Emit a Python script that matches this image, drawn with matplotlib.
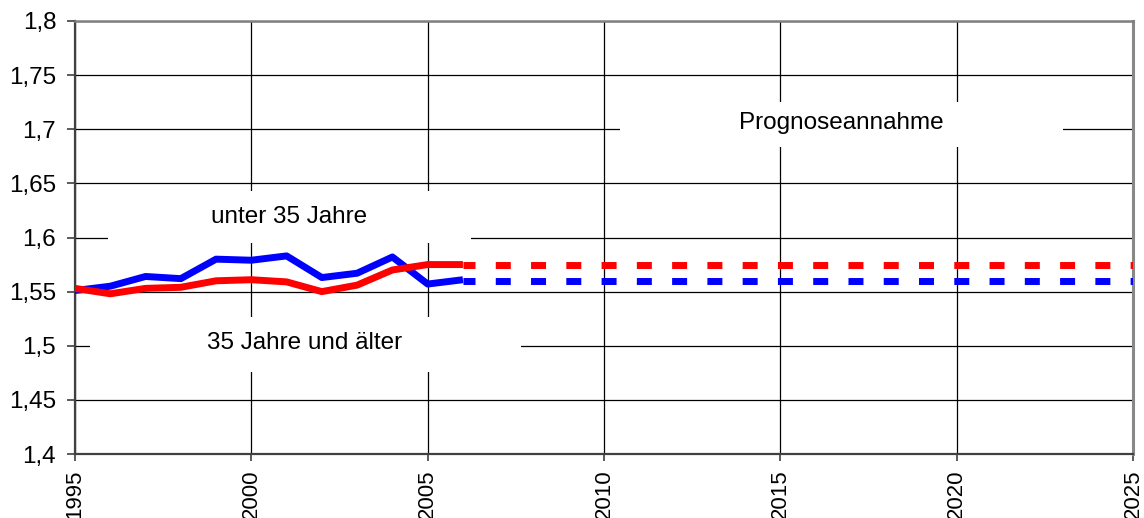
import matplotlib
matplotlib.use("Agg")
import matplotlib.pyplot as plt
from matplotlib.patches import Rectangle

plt.rcParams['font.family'] = ['Liberation Sans', 'DejaVu Sans']

# observed values 1995-2006
years = [1995, 1996, 1997, 1998, 1999, 2000, 2001, 2002, 2003, 2004, 2005, 2006]
unter35 = [1.551, 1.555, 1.564, 1.562, 1.580, 1.579, 1.583, 1.563, 1.567, 1.582, 1.557, 1.561]
ab35 = [1.553, 1.548, 1.553, 1.554, 1.560, 1.561, 1.559, 1.550, 1.556, 1.570, 1.575, 1.575]

# forecast assumption 2006-2025
prog_years = list(range(2006, 2026))
prog_unter35 = [1.56] * len(prog_years)
prog_ab35 = [1.575] * len(prog_years)

xticks = [1995, 2000, 2005, 2010, 2015, 2020, 2025]
yticks = [1.4, 1.45, 1.5, 1.55, 1.6, 1.65, 1.7, 1.75, 1.8]
ylabels = ['1,4', '1,45', '1,5', '1,55', '1,6', '1,65', '1,7', '1,75', '1,8']

blue = '#0000ff'
red = '#ff0000'
fs = 17.5

fig = plt.figure(figsize=(11.44, 5.18), dpi=100)
ax = fig.add_axes([75 / 1144, 1 - 454 / 518, (1133 - 75) / 1144, (454 - 21) / 518])

ax.set_xlim(1995, 2025)
ax.set_ylim(1.4, 1.8)
ax.set_xticks(xticks)
ax.set_xticklabels([str(x) for x in xticks], rotation=90)
ax.set_yticks(yticks)
ax.set_yticklabels(ylabels)
ax.tick_params(axis='both', direction='out', color='#404040', width=1.2)
ax.tick_params(axis='y', labelsize=fs, length=5.5, pad=8)
ax.tick_params(axis='x', labelsize=16, length=5, pad=6)

ax.grid(True, color='black', linewidth=0.9, zorder=0)
ax.set_axisbelow(True)

for side in ['left', 'bottom']:
    ax.spines[side].set_color('#404040')
    ax.spines[side].set_linewidth(1.6)
ax.spines['top'].set_color('#808080')
ax.spines['top'].set_linewidth(1.8)
ax.spines['right'].set_color('#888888')
ax.spines['right'].set_linewidth(2.2)

# white label boxes covering the grid
boxes = [
    (1995.94, 1.595, 10.29, 0.048, 'unter 35 Jahre', 2001.07, 1.619),
    (1995.43, 1.4758, 12.22, 0.0508, '35 Jahre und älter', 2001.5, 1.5025),
    (2010.45, 1.6836, 12.56, 0.0416, 'Prognoseannahme', 2016.72, 1.7058),
]
for bx, by, bw, bh, txt, tx, ty in boxes:
    ax.add_patch(Rectangle((bx, by), bw, bh, facecolor='white', edgecolor='none', zorder=1))
    ax.text(tx, ty, txt, fontsize=fs, ha='center', va='center', zorder=2)

lw = 5
ax.plot(years, unter35, color=blue, lw=lw, solid_joinstyle='round', solid_capstyle='butt', zorder=3)
ax.plot(years, ab35, color=red, lw=lw, solid_joinstyle='round', solid_capstyle='butt', zorder=4)

# dash pattern in pixels: 15 on, 20.27 off, shifted 3 px
px = lw * 100 / 72
dash = (3 / px, (15 / px, 20.27 / px))
ax.plot(prog_years, prog_unter35, color=blue, lw=lw, linestyle=dash, zorder=3)
ax.plot(prog_years, prog_ab35, color=red, lw=lw, linestyle=dash, zorder=4)

fig.savefig('out.png', dpi=100)
